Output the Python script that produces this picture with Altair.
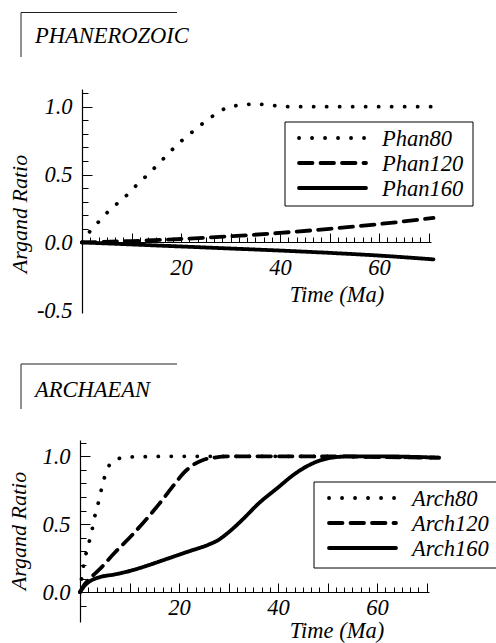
import altair as alt
import pandas as pd

FONT = "Liberation Serif"
FS = 22.5

# ---------------- data ----------------
phan_names = ["Phan80", "Phan120", "Phan160"]
arch_names = ["Arch80", "Arch120", "Arch160"]

phan80_t = [0, 2, 4, 6, 8, 10, 12, 14, 16, 18, 20, 22, 24, 26, 28, 30, 32, 35, 38, 42, 50, 60, 71]
phan80_v = [0.0, 0.10, 0.175, 0.255, 0.31, 0.385, 0.455, 0.525, 0.60, 0.675, 0.745, 0.805, 0.865,
            0.92, 0.97, 1.0, 1.01, 1.02, 1.01, 1.0, 1.0, 1.0, 1.0]
phan120_t = [0, 10, 20, 30, 40, 50, 60, 71]
phan120_v = [0.0, 0.01, 0.025, 0.045, 0.07, 0.10, 0.135, 0.18]
phan160_t = [0, 10, 20, 30, 40, 50, 60, 71]
phan160_v = [0.0, -0.015, -0.03, -0.045, -0.06, -0.077, -0.097, -0.125]

arch80_t = [0, 0.5, 1, 1.5, 2, 2.5, 3, 3.5, 4, 4.5, 5, 5.5, 6, 7, 8, 10, 20, 40, 60, 72.5]
arch80_v = [0.0, 0.15, 0.25, 0.32, 0.39, 0.47, 0.56, 0.63, 0.70, 0.79, 0.85, 0.90, 0.94, 0.97,
            0.985, 0.995, 1.0, 1.0, 0.995, 0.99]
arch120_t = [0, 1, 2, 4, 7, 10, 13, 16, 19, 21, 23, 25, 27, 30, 40, 50, 60, 72.5]
arch120_v = [0.0, 0.06, 0.10, 0.17, 0.29, 0.40, 0.52, 0.65, 0.79, 0.88, 0.94, 0.975, 0.99, 1.0,
             1.0, 1.0, 0.995, 0.99]
arch160_t = [0, 1, 2, 4, 7, 10, 14, 18, 22, 26, 28, 30, 33, 36, 40, 43, 46, 49, 52, 55, 60, 72.5]
arch160_v = [0.0, 0.05, 0.08, 0.11, 0.13, 0.155, 0.20, 0.25, 0.30, 0.35, 0.385, 0.44, 0.54, 0.65,
             0.77, 0.86, 0.93, 0.975, 0.995, 1.0, 1.0, 0.99]

x_label_values = [20, 40, 60]
phan_y_labels = [-0.5, 0.0, 0.5, 1.0]
arch_y_labels = [0.0, 0.5, 1.0]
x_tick_values = [round(i * 10 / 6, 4) for i in range(43)]
phan_y_ticks = [round(i / 10, 2) for i in range(0, 12)]
arch_y_ticks = [round(i / 10, 2) for i in range(-1, 12)]


def frame(names, times, vals):
    rows = []
    for n, ts, vs in zip(names, times, vals):
        for t, v in zip(ts, vs):
            rows.append({"t": t, "v": v, "series": n})
    return pd.DataFrame(rows)


phan_df = frame(phan_names, [phan80_t, phan120_t, phan160_t], [phan80_v, phan120_v, phan160_v])
arch_df = frame(arch_names, [arch80_t, arch120_t, arch160_t], [arch80_v, arch120_v, arch160_v])

W, H = 496, 643
DASHES = [[0.1, 12.9], [13.5, 8], [1, 0]]
LW = 3.8

x_major = {"condition": {"test": "abs(datum.value/10 - round(datum.value/10)) < 0.01", "value": 9}, "value": 5}
y_major = {"condition": {"test": "abs(datum.value*2 - round(datum.value*2)) < 0.01", "value": 10}, "value": 6}
y_label_expr = "datum.value < 0 ? '-' + format(-datum.value, '.1f') : format(datum.value, '.1f')"

one = pd.DataFrame({"k": [0]})


def hrule(x1, x2, y, color="#222222", width=1, dash=None):
    kw = dict(color=color, strokeWidth=width)
    if dash is not None:
        kw["strokeDash"] = dash
        kw["strokeCap"] = "round"
    return alt.Chart(one).mark_rule(**kw).encode(x=alt.value(x1), x2=alt.value(x2), y=alt.value(y))


def vrule(x, y1, y2):
    return alt.Chart(one).mark_rule(color="#222222", strokeWidth=1).encode(
        x=alt.value(x), y=alt.value(y1), y2=alt.value(y2))


def label(text, x, y, angle=0, align="left", baseline="alphabetic", size=FS):
    return alt.Chart(one).mark_text(font=FONT, fontStyle="italic", fontSize=size, color="black",
                                    align=align, baseline=baseline, angle=angle).encode(
        x=alt.value(x), y=alt.value(y), text=alt.value(text))


def legend(names, box, rows, sym_x, text_x):
    out = [alt.Chart(one).mark_rect(fill="white", stroke="black", strokeWidth=1).encode(
        x=alt.value(box[0]), x2=alt.value(box[1]), y=alt.value(box[2]), y2=alt.value(box[3]))]
    for name, ry, dash in zip(names, rows, DASHES):
        out.append(hrule(sym_x[0] + 2, sym_x[1] - 2, ry, color="black", width=LW, dash=dash))
        out.append(label(name, text_x, ry + 1, baseline="middle"))
    return out


def panel(df, names, xrange, ydomain, yrange, zero_y, y_labels, y_ticks, xpad):
    x0 = xrange[0]
    xs = alt.Scale(domain=[0, 70.5], range=xrange, nice=False, zero=False)
    ys = alt.Scale(domain=ydomain, range=yrange, nice=False, zero=False)
    label_style = dict(labelFont=FONT, labelFontStyle="italic", labelFontSize=FS,
                       labelColor="black", labelFlush=False, labelOverlap=False)
    lines = alt.Chart(df).mark_line(color="black", strokeWidth=LW, strokeCap="round",
                                    interpolate="monotone").encode(
        x=alt.X("t:Q", scale=xs, axis=alt.Axis(orient="bottom", offset=zero_y - H, values=x_label_values,
                                               ticks=False, tickSize=0, domain=False, grid=False,
                                               labelPadding=xpad, title=None, **label_style)),
        y=alt.Y("v:Q", scale=ys, axis=alt.Axis(orient="left", offset=-x0, values=y_labels,
                                               labelExpr=y_label_expr,
                                               ticks=False, tickSize=0, domain=False, grid=False,
                                               labelPadding=10, title=None, **label_style)),
        strokeDash=alt.StrokeDash("series:N", scale=alt.Scale(domain=names, range=DASHES), legend=None),
        detail="series:N",
    )
    ticks = alt.Chart(df).mark_point(opacity=0).encode(
        x=alt.X("t:Q", scale=xs, axis=alt.Axis(orient="top", offset=-zero_y, values=x_tick_values,
                                               labels=False, tickSize=x_major, tickColor="black",
                                               tickWidth=1, domain=True, domainColor="black",
                                               domainWidth=1.2, grid=False, title=None)),
        y=alt.Y("v:Q", scale=ys, axis=alt.Axis(orient="right", offset=x0 - W, values=y_ticks,
                                               labels=False, tickSize=y_major, tickColor="black",
                                               tickWidth=1, domain=True, domainColor="black",
                                               domainWidth=1.2, grid=False, title=None)),
    )
    return [lines, ticks]


layers = []
layers += panel(phan_df, phan_names, [82, 431], [-0.52, 1.13], [313, 89], 242,
                phan_y_labels, phan_y_ticks, 14)
layers += panel(arch_df, arch_names, [80, 429], [-0.22, 1.12], [622, 440], 592,
                arch_y_labels, arch_y_ticks, 4)
layers += legend(phan_names, (285, 473, 122, 206), [138, 163, 188], (297, 368), 382)
layers += legend(arch_names, (314, 502, 482, 568), [498, 523, 548], (327, 398), 412)
layers += [
    hrule(21, 177, 12.5), vrule(21, 12.5, 57), label("PHANEROZOIC", 35, 43),
    hrule(21, 177, 364), vrule(21, 364, 409), label("ARCHAEAN", 35, 397),
    label("Argand Ratio", 27, 214, angle=270, align="center", size=22),
    label("Argand Ratio", 26, 531, angle=270, align="center", size=22),
    label("Time (Ma)", 337, 302, align="center"),
    label("Time (Ma)", 337, 638, align="center"),
]

chart = alt.layer(*layers).resolve_scale(
    x="independent", y="independent", strokeDash="independent"
).resolve_axis(x="independent", y="independent").properties(
    width=W, height=H, autosize=alt.AutoSizeParams(type="none"), padding=0, background="white"
).configure_view(stroke=None)

chart.save("out.html", embed_options={"renderer": "svg", "actions": False})
